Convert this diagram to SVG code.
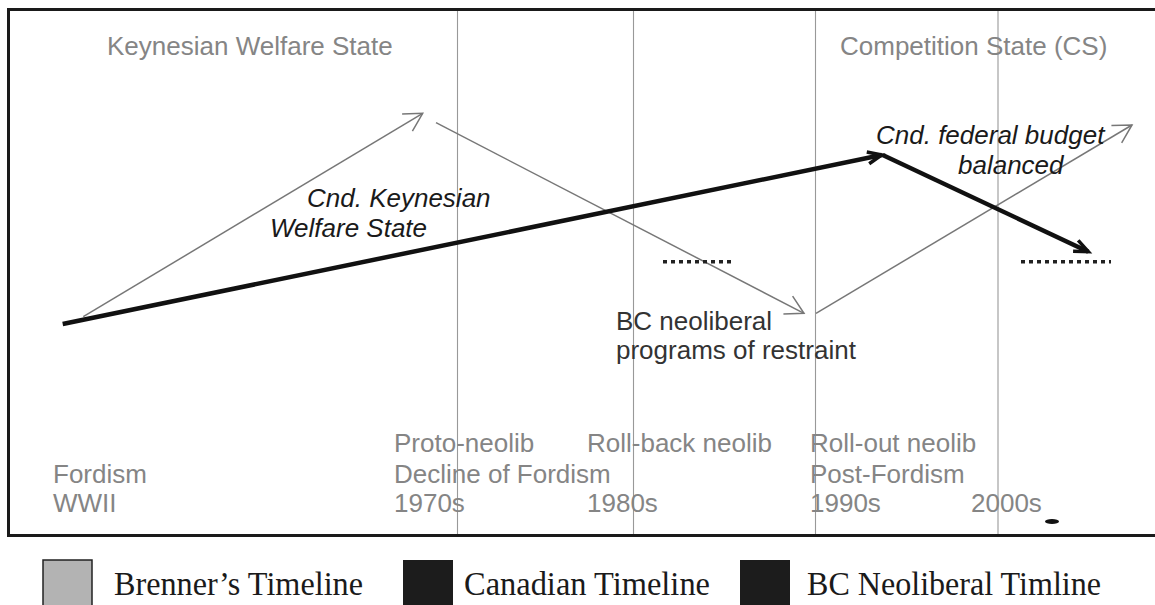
<svg xmlns="http://www.w3.org/2000/svg" width="1155" height="605" viewBox="0 0 1155 605">
<style>
.lbl{font-family:"Liberation Sans",Arial,sans-serif;font-size:26px;fill:#858585}
.it{font-family:"Liberation Sans",Arial,sans-serif;font-size:26px;font-style:italic;fill:#1a1a1a}
.bc{font-family:"Liberation Sans",Arial,sans-serif;font-size:26px;fill:#333}
.leg{font-family:"Liberation Serif","Times New Roman",serif;font-size:34px;fill:#1a1a1a}
.grid{stroke:#999;stroke-width:1.1}
.brenner{stroke:#777;stroke-width:1.5;fill:none}
.cnd{stroke:#111;stroke-width:4.5;fill:none}
.dots{stroke:#222;stroke-width:3.5;stroke-dasharray:4 4;fill:none}
</style>
<defs>
<marker id="openGray" markerUnits="userSpaceOnUse" markerWidth="40" markerHeight="40" refX="0" refY="0" viewBox="-25 -20 30 40" orient="auto" overflow="visible">
<path d="M-18,-10 L0,0 L-18,10" fill="none" stroke="#777" stroke-width="1.5"/>
</marker>
<marker id="thickBlack" markerUnits="userSpaceOnUse" markerWidth="40" markerHeight="40" refX="0" refY="0" viewBox="-25 -20 30 40" orient="auto" overflow="visible">
<path d="M-14,-6 L0,0 L-14,6" fill="none" stroke="#111" stroke-width="3.5"/>
</marker>
</defs>
<rect width="1155" height="605" fill="#fff"/>
<rect x="8.5" y="9.5" width="1160" height="526" fill="none" stroke="#1a1a1a" stroke-width="3"/>
<g id="grid">
<line class="grid" x1="457.5" y1="11" x2="457.5" y2="534"/>
<line class="grid" x1="633.5" y1="11" x2="633.5" y2="534"/>
<line class="grid" x1="815.5" y1="11" x2="815.5" y2="534"/>
<line class="grid" x1="998" y1="11" x2="998" y2="534"/>
</g>
<g id="era-labels">
<text class="lbl" x="107" y="54.5">Keynesian Welfare State</text>
<text class="lbl" x="840" y="54.5">Competition State (CS)</text>
</g>
<g id="connectors">
<path class="brenner" d="M83.3,316.7 L422.7,113.3" marker-end="url(#openGray)"/>
<path class="brenner" d="M436,122.7 L804,313.3" marker-end="url(#openGray)"/>
<path class="brenner" d="M816,313.3 L1132,125" marker-end="url(#openGray)"/>
<path class="cnd" d="M62.7,324 L881.7,155" marker-end="url(#thickBlack)"/>
<path class="cnd" d="M882.7,155 L1088.3,251.7" marker-end="url(#thickBlack)"/>
<path class="dots" d="M663,261.7 L732,261.7"/>
<path class="dots" d="M1021,261.7 L1111,261.7"/>
</g>
<g id="node-cnd-kws">
<text class="it" x="307" y="206.7">Cnd. Keynesian</text>
<text class="it" x="270" y="237.3">Welfare State</text>
</g>
<g id="node-cnd-budget">
<text class="it" x="876" y="144.3">Cnd. federal budget</text>
<text class="it" x="958" y="174">balanced</text>
</g>
<g id="node-bc">
<text class="bc" x="616" y="330">BC neoliberal</text>
<text class="bc" x="616" y="359.3">programs of restraint</text>
</g>
<g id="node-fordism">
<text class="lbl" x="53" y="482.5">Fordism</text>
<text class="lbl" x="53" y="511.5">WWII</text>
</g>
<g id="node-proto">
<text class="lbl" x="394" y="451.5">Proto-neolib</text>
<text class="lbl" x="394" y="482.5">Decline of Fordism</text>
<text class="lbl" x="394" y="511.5">1970s</text>
</g>
<g id="node-rollback">
<text class="lbl" x="587" y="451.5">Roll-back neolib</text>
<text class="lbl" x="587" y="511.5">1980s</text>
</g>
<g id="node-rollout">
<text class="lbl" x="810" y="451.5">Roll-out neolib</text>
<text class="lbl" x="810" y="482.5">Post-Fordism</text>
<text class="lbl" x="810" y="511.5">1990s</text>
</g>
<g id="node-2000s">
<text class="lbl" x="971" y="511.5">2000s</text>
</g>
<ellipse cx="1052" cy="521.5" rx="7" ry="2.5" fill="#111"/>
<g id="legend">
<rect x="43" y="560" width="49" height="50" fill="#b3b3b3" stroke="#222" stroke-width="1.5"/>
<text class="leg" x="114" y="595" textLength="249" lengthAdjust="spacingAndGlyphs">Brenner’s Timeline</text>
<rect x="403" y="560" width="50" height="50" fill="#1c1c1c"/>
<text class="leg" x="464" y="595" textLength="246" lengthAdjust="spacingAndGlyphs">Canadian Timeline</text>
<rect x="740" y="560" width="50" height="50" fill="#1c1c1c"/>
<text class="leg" x="807" y="595" textLength="294" lengthAdjust="spacingAndGlyphs">BC Neoliberal Timline</text>
</g>
</svg>
